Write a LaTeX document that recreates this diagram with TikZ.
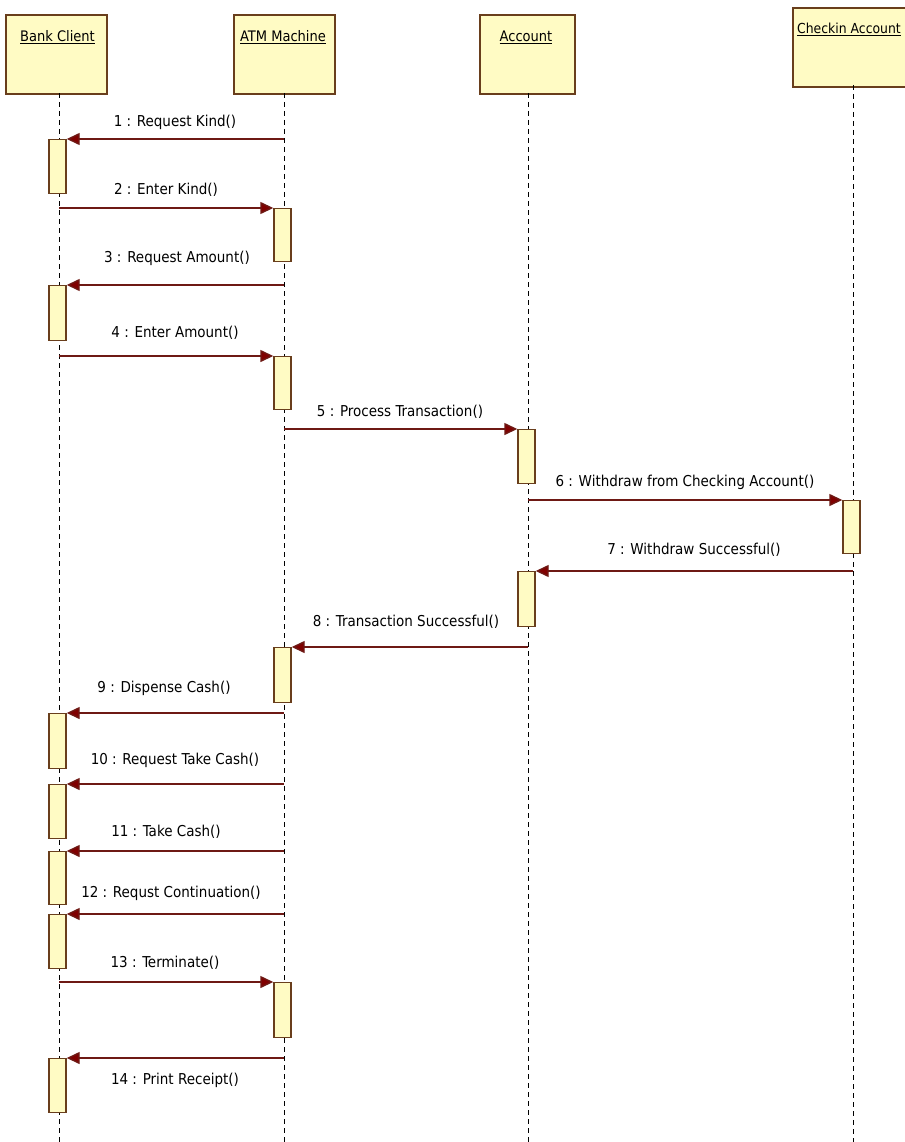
\documentclass[tikz,border=0pt]{standalone}
\usepackage{fontspec}
\setmainfont{DejaVu Sans Condensed}
\usetikzlibrary{arrows.meta}
\definecolor{boxfill}{RGB}{255,251,196}
\definecolor{boxline}{RGB}{105,62,28}
\definecolor{msgline}{RGB}{110,25,20}
\definecolor{msghead}{RGB}{128,0,0}
\tikzset{
  head/.style={draw=boxline, fill=boxfill, line width=1.6pt, minimum width=101pt, minimum height=79pt, inner sep=0pt, anchor=north west},
  headtext/.style={font=\fontsize{14.5}{16}\selectfont, inner sep=0pt},
  act/.style={draw=boxline, fill=boxfill, line width=1.4pt, minimum width=17pt, minimum height=54pt, inner sep=0pt, anchor=north},
  life/.style={draw=black, line width=0.9pt, dash pattern=on 5pt off 4pt},
  msg/.style={draw=msgline, line width=1.4pt, -{Triangle[length=13pt,width=12pt,fill=msghead]}},
  msgtext/.style={font=\fontsize{15}{17}\selectfont, inner sep=0pt}
}
\begin{document}
\begin{tikzpicture}[x=1pt,y=-1pt]
\useasboundingbox[fill=white] (0,0) rectangle (904,1142);
% heads
\node[head] (bc) at (5,14) {};
\node[head] (atm) at (233,14) {};
\node[head, minimum width=95pt] (acc) at (479,14) {};
\node[head, minimum width=130pt] (chk) at (792,7) {};
\node[headtext] (bct) at (57.5,37) {\underline{Bank Client}};
\node[headtext] (atmt) at (283,37) {\underline{ATM Machine}};
\node[headtext] (acct) at (526,37) {\underline{Account}};
\node[headtext, anchor=west, font=\fontsize{13.8}{16}\selectfont] (chkt) at (797,29) {\underline{Checkin Account}};
% lifelines
\coordinate (bcEnd) at (59,1142);
\coordinate (atmEnd) at (284,1142);
\coordinate (accEnd) at (528,1142);
\coordinate (chkEnd) at (853,1142);
\draw[life] (59,93) -- (bcEnd);
\draw[life] (284,93) -- (atmEnd);
\draw[life] (528,93) -- (accEnd);
\draw[life] (853,85) -- (chkEnd);
% activations
\node[act] (a1) at (57.5,139) {};
\node[act, minimum height=53pt] (a2) at (282.5,208) {};
\node[act, minimum height=55pt] (a3) at (57.5,285) {};
\node[act, minimum height=53pt] (a4) at (282.5,356) {};
\node[act] (a5) at (526.5,429) {};
\node[act, minimum height=53pt] (a6) at (851.5,500) {};
\node[act, minimum height=55pt] (a7) at (526.5,571) {};
\node[act, minimum height=55pt] (a8) at (282.5,647) {};
\node[act, minimum height=55pt] (a9) at (57.5,713) {};
\node[act] (a10) at (57.5,784) {};
\node[act, minimum height=53pt] (a11) at (57.5,851) {};
\node[act] (a12) at (57.5,914) {};
\node[act, minimum height=55pt] (a13) at (282.5,982) {};
\node[act] (a14) at (57.5,1058) {};
% message start points on lifelines
\coordinate (s1) at (284,139);
\coordinate (s2) at (59,208);
\coordinate (s3) at (284,285);
\coordinate (s4) at (59,356);
\coordinate (s5) at (284,429);
\coordinate (s6) at (528,500);
\coordinate (s7) at (853,571);
\coordinate (s8) at (528,647);
\coordinate (s9) at (284,713);
\coordinate (s10) at (284,784);
\coordinate (s11) at (284,851);
\coordinate (s12) at (284,914);
\coordinate (s13) at (59,982);
\coordinate (s14) at (284,1058);
% messages
\draw[msg] (s1) -- (a1.north east);
\draw[msg] (s2) -- (a2.north west);
\draw[msg] (s3) -- (a3.north east);
\draw[msg] (s4) -- (a4.north west);
\draw[msg] (s5) -- (a5.north west);
\draw[msg] (s6) -- (a6.north west);
\draw[msg] (s7) -- (a7.north east);
\draw[msg] (s8) -- (a8.north east);
\draw[msg] (s9) -- (a9.north east);
\draw[msg] (s10) -- (a10.north east);
\draw[msg] (s11) -- (a11.north east);
\draw[msg] (s12) -- (a12.north east);
\draw[msg] (s13) -- (a13.north west);
\draw[msg] (s14) -- (a14.north east);
% labels
\node[msgtext] (l1) at (175,122) {1 : Request Kind()};
\node[msgtext] (l2) at (166,190) {2 : Enter Kind()};
\node[msgtext] (l3) at (177,258) {3 : Request Amount()};
\node[msgtext] (l4) at (175,333) {4 : Enter Amount()};
\node[msgtext] (l5) at (400,412) {5 : Process Transaction()};
\node[msgtext] (l6) at (685,482) {6 : Withdraw from Checking Account()};
\node[msgtext] (l7) at (694,550) {7 : Withdraw Successful()};
\node[msgtext] (l8) at (406,622) {8 : Transaction Successful()};
\node[msgtext] (l9) at (164,688) {9 : Dispense Cash()};
\node[msgtext] (l10) at (175,760) {10 : Request Take Cash()};
\node[msgtext] (l11) at (166,832) {11 : Take Cash()};
\node[msgtext] (l12) at (171,893) {12 : Requst Continuation()};
\node[msgtext] (l13) at (165,963) {13 : Terminate()};
\node[msgtext] (l14) at (175,1080) {14 : Print Receipt()};
\end{tikzpicture}
\end{document}
